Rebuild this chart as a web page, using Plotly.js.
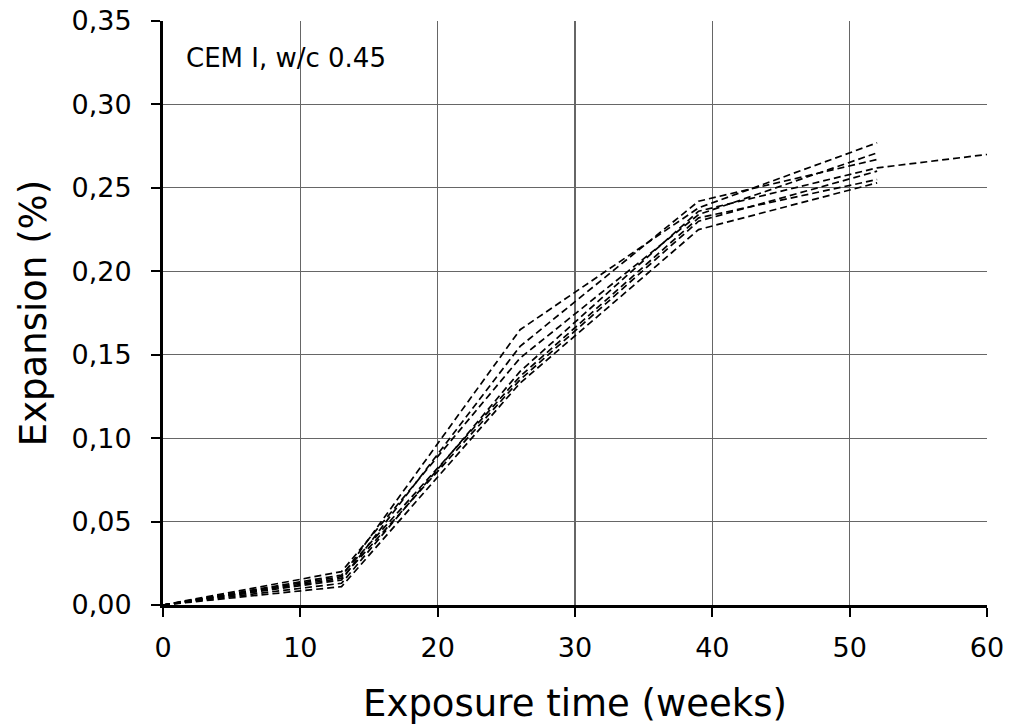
<!DOCTYPE html>
<html>
<head>
<meta charset="utf-8">
<script src="https://cdn.plot.ly/plotly-3.0.1.min.js"></script>
<style>html,body{margin:0;padding:0;background:#fff;}#chart{width:1010px;height:727px;}</style>
</head>
<body>
<div id="chart"></div>
<script>
// Exposure times (weeks)
const weeks = [0, 13, 26, 39, 52];
const weeksLong = [0, 13, 26, 39, 52, 60];
// Expansion (%) per specimen
const s1 = [0, 0.017, 0.165, 0.238, 0.277];
const s2 = [0, 0.015, 0.155, 0.242, 0.267];
const s3 = [0, 0.020, 0.148, 0.234, 0.271];
const s4 = [0, 0.013, 0.140, 0.236, 0.262, 0.270];
const s5 = [0, 0.018, 0.137, 0.232, 0.255];
const s6 = [0, 0.016, 0.135, 0.230, 0.260];
const s7 = [0, 0.011, 0.133, 0.225, 0.253];
const xTicks = [0, 10, 20, 30, 40, 50, 60];
const yTicks = [0, 0.05, 0.10, 0.15, 0.20, 0.25, 0.30, 0.35];

const series = [[weeks, s1], [weeks, s2], [weeks, s3], [weeksLong, s4], [weeks, s5], [weeks, s6], [weeks, s7]];
const FONT = 'DejaVu Sans, sans-serif';
const traces = series.map(([x, y]) => ({
  x: x, y: y, type: 'scatter', mode: 'lines',
  line: {color: '#000', width: 1.7, dash: '7px,4px'},
  showlegend: false, hoverinfo: 'skip'
}));

const layout = {
  width: 1010, height: 727,
  margin: {l: 163, r: 23, t: 21, b: 122},
  paper_bgcolor: '#fff', plot_bgcolor: '#fff',
  separators: ', ',
  font: {family: FONT, color: '#000'},
  xaxis: {
    range: [0, 60], tickvals: xTicks, ticktext: xTicks.map(String),
    showgrid: true, gridcolor: '#666666', gridwidth: 1.2,
    showline: true, linecolor: '#000', linewidth: 3,
    ticks: 'outside', ticklen: 9, tickwidth: 2, tickcolor: '#000',
    ticklabelstandoff: 8,
    zeroline: false,
    tickfont: {family: FONT, size: 27, color: '#000'},
    title: {text: 'Exposure time (weeks)', font: {family: FONT, size: 37, color: '#000'}, standoff: 28}
  },
  yaxis: {
    range: [0, 0.35], tickvals: yTicks, tickformat: '.2f',
    showgrid: true, gridcolor: '#666666', gridwidth: 1.2,
    showline: true, linecolor: '#000', linewidth: 3,
    ticks: 'outside', ticklen: 9, tickwidth: 2, tickcolor: '#000',
    ticklabelstandoff: 14,
    zeroline: false,
    tickfont: {family: FONT, size: 27, color: '#000'},
    title: {text: 'Expansion (%)', font: {family: FONT, size: 37, color: '#000'}, standoff: 14}
  },
  annotations: [{
    xref: 'paper', yref: 'paper', x: 0.026, y: 0.937,
    xanchor: 'left', yanchor: 'middle', showarrow: false,
    text: 'CEM I, w/c 0.45', font: {family: FONT, size: 26, color: '#000'}
  }]
};

Plotly.newPlot('chart', traces, layout, {displayModeBar: false, staticPlot: true});
</script>
</body>
</html>
